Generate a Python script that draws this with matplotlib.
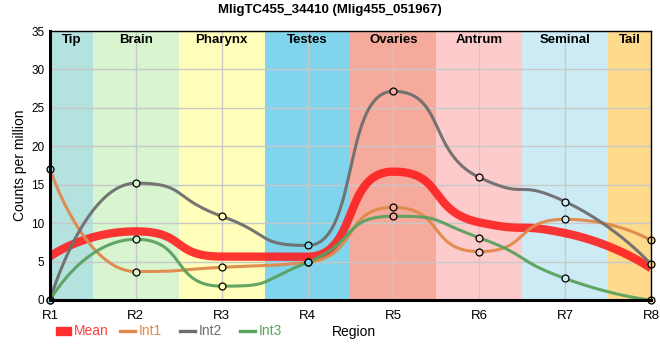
import matplotlib
matplotlib.use("Agg")
import matplotlib.pyplot as plt
import numpy as np

plt.rcParams['font.family'] = ['Liberation Sans', 'DejaVu Sans']

regions = ["R1", "R2", "R3", "R4", "R5", "R6", "R7", "R8"]
tissues = ["Tip", "Brain", "Pharynx", "Testes", "Ovaries", "Antrum", "Seminal", "Tail"]
tissue_colors = ["#b3e2df", "#d8f5d0", "#ffffbb", "#80d4ec",
                 "#f5aa9c", "#fdcbcb", "#cdebf5", "#fdda8c"]

mean = [5.67, 8.93, 5.65, 5.63, 16.7, 10.1, 8.7, 4.13]
int1 = [17.0, 3.7, 4.25, 4.9, 12.05, 6.3, 10.5, 7.75]
int2 = [0.0, 15.2, 10.9, 7.1, 27.15, 15.95, 12.8, 4.65]
int3 = [0.0, 7.9, 1.8, 4.9, 10.9, 8.1, 2.8, 0.0]


def spline(x, y, c=0.6, n=60):
    # bezier spline, control points kept between neighbours (no false extremes)
    x = np.asarray(x, float)
    y = np.asarray(y, float)
    k = len(x)
    lx, ly, rx, ry = x.copy(), y.copy(), x.copy(), y.copy()
    for i in range(1, k - 1):
        hl = x[i] - x[i-1]
        hr = x[i+1] - x[i]
        m = (y[i+1] - y[i-1]) / (hl + hr)
        lx[i], rx[i] = x[i] - c * hl, x[i] + c * hr
        ly[i], ry[i] = y[i] - m * c * hl, y[i] + m * c * hr
        if ly[i] > y[i-1] and ly[i] > y[i]:
            ly[i] = max(y[i-1], y[i]); ry[i] = 2 * y[i] - ly[i]
        elif ly[i] < y[i-1] and ly[i] < y[i]:
            ly[i] = min(y[i-1], y[i]); ry[i] = 2 * y[i] - ly[i]
        if ry[i] > y[i+1] and ry[i] > y[i]:
            ry[i] = max(y[i+1], y[i]); ly[i] = 2 * y[i] - ry[i]
        elif ry[i] < y[i+1] and ry[i] < y[i]:
            ry[i] = min(y[i+1], y[i]); ly[i] = 2 * y[i] - ry[i]
    u = np.linspace(0, 1, n)[:, None]
    xs, ys = [], []
    for i in range(k - 1):
        P = np.array([[x[i], y[i]], [rx[i], ry[i]], [lx[i+1], ly[i+1]], [x[i+1], y[i+1]]])
        B = ((1-u)**3) * P[0] + 3*((1-u)**2)*u * P[1] + 3*(1-u)*u**2 * P[2] + u**3 * P[3]
        xs.append(B[:, 0]); ys.append(B[:, 1])
    return np.concatenate(xs), np.concatenate(ys)


fig = plt.figure(figsize=(6.6, 3.6), dpi=100)
ax = fig.add_axes([50/660, 60/360, 601/660, 269/360])

xpos = np.arange(len(regions))
for i, (name, col) in enumerate(zip(tissues, tissue_colors)):
    ax.axvspan(max(i - 0.5, 0), min(i + 0.5, 7), color=col, lw=0, zorder=0)
    ax.text(i if 0 < i < 7 else (0.25 if i == 0 else 6.75), 33.8, name,
            ha="center", va="center", fontsize=9.5, fontweight="bold", zorder=5)

ax.set_xlim(0, 7)
ax.set_ylim(0, 35)
ax.set_xticks(xpos)
ax.set_xticklabels(regions, fontsize=9.5)
ax.set_yticks(np.arange(0, 36, 5))
ax.tick_params(axis="y", labelsize=8.5, length=0, pad=4)
ax.tick_params(axis="x", length=0, pad=7)
ax.grid(True, color="#c8c8c8", lw=1, zorder=1)
ax.set_axisbelow(False)
for sp in ["left", "bottom"]:
    ax.spines[sp].set_linewidth(2.2)
for sp in ["top", "right"]:
    ax.spines[sp].set_linewidth(1.0)
for sp in ax.spines.values():
    sp.set_zorder(6)

mx, my = spline(xpos, mean)
ax.plot(mx, my, color="#ff2020", lw=6, alpha=0.9, zorder=3, solid_capstyle="butt")

series = [(int1, "#e0894a"), (int2, "#6e6e6e"), (int3, "#5ba15e")]
for vals, col in series:
    sx, sy = spline(xpos, vals)
    ax.plot(sx, sy, color=col, lw=2.2, alpha=0.95, zorder=3)
for vals, col in series:
    for i, v in enumerate(vals):
        ax.plot(i, v, "o", ms=5, mec="black", mew=0.9, mfc=tissue_colors[i],
                zorder=4, clip_on=False)

ax.set_ylabel("Counts per million", fontsize=10)
ax.yaxis.set_label_coords(-0.038, 0.5)
fig.text(330/660, 1 - 10/360, "MligTC455_34410 (Mlig455_051967)",
         ha="center", va="center", fontsize=9.5, fontweight="bold")

# legend row below axis
ly = 1 - 331/360
fig.patches.append(plt.Rectangle((56/660, ly - 4/360), 15/660, 8/360,
                                 transform=fig.transFigure, color="#ff2e2e"))
fig.text(74/660, ly, "Mean", color="#ff4040", fontsize=10, va="center")
for x0, label, col in [(120, "Int1", "#e0894a"), (180, "Int2", "#6e6e6e"), (240, "Int3", "#5ba15e")]:
    fig.add_artist(plt.Line2D([x0/660, (x0 + 15)/660], [ly, ly], color=col, lw=2.4,
                              transform=fig.transFigure))
    fig.text((x0 + 19)/660, ly, label, color=col, fontsize=10, va="center")
fig.text(332/660, ly - 1/360, "Region", fontsize=10, va="center")

fig.savefig("out.png", dpi=100)
